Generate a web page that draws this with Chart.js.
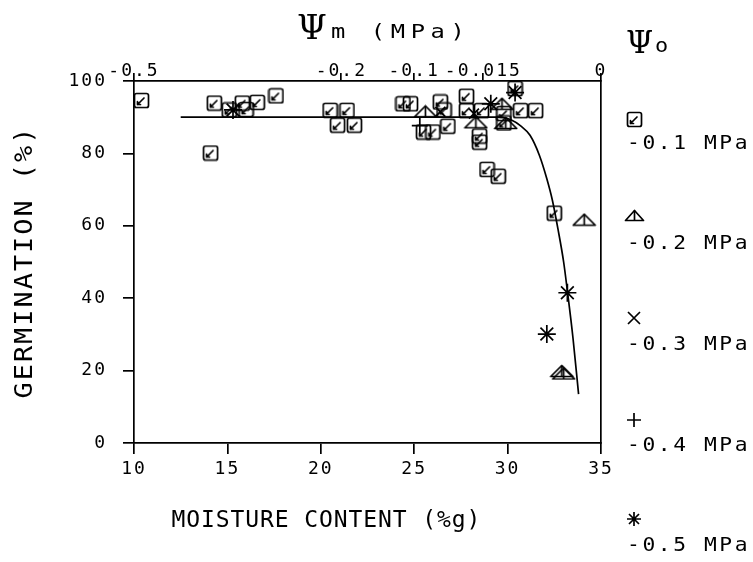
<!DOCTYPE html>
<html><head><meta charset="utf-8">
<script src="https://cdn.jsdelivr.net/npm/chart.js@4/dist/chart.umd.min.js"></script>
<style>html,body{margin:0;padding:0;background:#fff;}</style>
</head><body>
<canvas id="c" width="753" height="562"></canvas>
<script>
// ---- data ----
const squareX = [10.4, 14.1, 14.3, 15.1, 15.8, 16.0, 16.6, 17.6, 20.5, 21.4, 20.9, 21.8, 24.4, 24.8, 25.5, 26.0, 26.4, 26.6, 26.8, 27.8, 27.8, 28.6, 28.5, 28.5, 29.8, 29.8, 30.4, 30.7, 31.5, 28.9, 29.5, 32.5];
const squareY = [94.6, 80.1, 93.9, 92.0, 93.9, 92.1, 94.1, 95.9, 91.9, 91.9, 87.8, 87.8, 93.7, 93.7, 85.9, 85.9, 94.2, 92.0, 87.5, 95.8, 91.8, 91.8, 84.8, 83.1, 91.0, 88.4, 97.9, 91.8, 91.8, 75.6, 73.7, 63.5];
const triangleX = [25.6, 29.7, 28.3, 29.9, 34.1, 32.9, 33.0];
const triangleY = [91.6, 93.7, 88.6, 88.4, 61.7, 19.9, 19.2];
const crossX = [26.4, 28.2];
const crossY = [91.5, 91.0];
const plusX = [25.3];
const plusY = [87.7];
const starX = [15.3, 29.1, 30.4, 33.2, 32.1];
const starY = [92.0, 93.7, 96.8, 41.5, 30.1];
const curveX = [12.5, 29.6, 30.2, 30.7, 31.2, 31.7, 32.1, 32.4, 32.7, 33.0, 33.2, 33.5, 33.8];
const curveY = [90, 90, 89.2, 87.6, 85.0, 79.5, 73.0, 67.0, 59.0, 50.0, 42.0, 29.0, 13.5];
const topTickPos = [10, 21.1, 25.0, 28.7, 35];
const topTickLabels = ['-0.5', '-0.2', '-0.1', '-0.015', '0'];
const legendLabels = ['-0.1 MPa', '-0.2 MPa', '-0.3 MPa', '-0.4 MPa', '-0.5 MPa'];
const xTitle = 'MOISTURE CONTENT (%g)';
const yTitle = 'GERMINATION (%)';

const MONO = '"DejaVu Sans Mono", monospace';
const pts = (xs, ys) => xs.map((x, i) => ({x: x, y: ys[i]}));

// custom marker images
function makeSquare() {
  const c = document.createElement('canvas'); c.width = 17; c.height = 17;
  const g = c.getContext('2d'); g.strokeStyle = '#000'; g.lineWidth = 1.7; g.lineCap = 'round';
  g.beginPath(); g.roundRect(1.5, 1.5, 14, 14, 2); g.stroke();
  g.beginPath(); g.moveTo(11, 6); g.lineTo(4.5, 12.5); g.moveTo(4.5, 12.5); g.lineTo(7.5, 12.5); g.moveTo(4.5, 12.5); g.lineTo(4.5, 9.5); g.stroke();
  return c;
}
function makeTriangle(w, h) {
  const c = document.createElement('canvas'); c.width = w; c.height = h;
  const g = c.getContext('2d'); g.strokeStyle = '#000'; g.lineWidth = 1.7; g.lineJoin = 'round';
  g.beginPath(); g.moveTo(1.5, h - 1.5); g.lineTo(w / 2, 1.5); g.lineTo(w - 1.5, h - 1.5); g.closePath(); g.stroke();
  g.beginPath(); g.moveTo(w / 2, 1.5); g.lineTo(w / 2, h - 1.5); g.stroke();
  return c;
}
const sqImg = makeSquare();
const triImg = makeTriangle(25, 14);
const triLegImg = makeTriangle(21, 13);

const base = {showLine: false, borderColor: '#000', backgroundColor: 'rgba(0,0,0,0)', borderWidth: 1.7};

function stretchedText(ctx, text, x, y, size, sx, spacing, align) {
  ctx.save();
  ctx.font = size + 'px ' + MONO;
  ctx.letterSpacing = spacing + 'px';
  ctx.textBaseline = 'middle';
  ctx.textAlign = 'left';
  const w = ctx.measureText(text).width - spacing;
  ctx.translate(x, y);
  ctx.scale(sx, 1);
  let x0 = 0;
  if (align === 'center') x0 = -w / 2;
  ctx.fillText(text, x0, 0);
  ctx.restore();
}

const textPlugin = {
  id: 'texts',
  beforeDraw(chart) { chart.ctx.letterSpacing = '2px'; },
  afterDraw(chart) {
    const ctx = chart.ctx;
    ctx.save();
    ctx.fillStyle = '#000';
    // y title (rotated)
    ctx.save();
    ctx.translate(26, 263); ctx.rotate(-Math.PI / 2);
    stretchedText(ctx, yTitle, 0, 0, 24, 1.12, 1.8, 'center');
    ctx.restore();
    // x title
    stretchedText(ctx, xTitle, 326, 521, 23, 1.0, 0.9, 'center');
    // top title
    ctx.letterSpacing = '0px';
    ctx.textAlign = 'left'; ctx.textBaseline = 'alphabetic';
    ctx.font = '34px "DejaVu Serif", serif';
    ctx.fillText('\u03A8', 297, 39);
    stretchedText(ctx, 'm (MPa)', 331, 33, 19, 1.25, 4.5, 'left');
    // right Psi o
    ctx.letterSpacing = '0px';
    ctx.textAlign = 'left'; ctx.textBaseline = 'alphabetic';
    ctx.font = '31px "DejaVu Serif", serif';
    ctx.fillText('\u03A8', 626, 53);
    stretchedText(ctx, 'o', 655, 47, 19, 1.15, 0, 'left');
    // legend symbols
    const symY = [119, 216, 318, 420, 519];
    const txtY = [144, 244, 345, 446, 546];
    const sx = 634;
    ctx.lineWidth = 1.7; ctx.strokeStyle = '#000';
    ctx.drawImage(sqImg, sx - 8, symY[0] - 8);
    ctx.drawImage(triLegImg, sx - 10, symY[1] - 7);
    ctx.beginPath(); ctx.moveTo(sx - 6, symY[2] - 6); ctx.lineTo(sx + 6, symY[2] + 6);
    ctx.moveTo(sx + 6, symY[2] - 6); ctx.lineTo(sx - 6, symY[2] + 6); ctx.stroke();
    ctx.beginPath(); ctx.moveTo(sx - 7, symY[3]); ctx.lineTo(sx + 7, symY[3]);
    ctx.moveTo(sx, symY[3] - 7); ctx.lineTo(sx, symY[3] + 7); ctx.stroke();
    ctx.beginPath();
    ctx.moveTo(sx - 7, symY[4]); ctx.lineTo(sx + 7, symY[4]);
    ctx.moveTo(sx, symY[4] - 7); ctx.lineTo(sx, symY[4] + 7);
    ctx.moveTo(sx - 5, symY[4] - 5); ctx.lineTo(sx + 5, symY[4] + 5);
    ctx.moveTo(sx + 5, symY[4] - 5); ctx.lineTo(sx - 5, symY[4] + 5);
    ctx.stroke();
    legendLabels.forEach((t, i) => stretchedText(ctx, t, 627, txtY[i], 19, 1.12, 2.3, 'left'));
    ctx.restore();
  }
};

const axisGrid = {display: true, drawOnChartArea: false, drawTicks: true, color: '#000', lineWidth: 1.7, tickLength: 11, tickWidth: 1.7};
const axisBorder = {display: true, color: '#000', width: 1.7};
const tickFont = {family: MONO, size: 18};

new Chart(document.getElementById('c'), {
  type: 'scatter',
  data: {
    datasets: [
      {type: 'line', label: 'fit', data: pts(curveX, curveY), borderColor: '#000', borderWidth: 1.7, pointRadius: 0, fill: false, cubicInterpolationMode: 'monotone'},
      Object.assign({label: '-0.1 MPa', data: pts(squareX, squareY), pointStyle: sqImg, pointRadius: 8}, base),
      Object.assign({label: '-0.2 MPa', data: pts(triangleX, triangleY), pointStyle: triImg, pointRadius: 9}, base),
      Object.assign({label: '-0.3 MPa', data: pts(crossX, crossY), pointStyle: 'crossRot', pointRadius: 7}, base),
      Object.assign({label: '-0.4 MPa', data: pts(plusX, plusY), pointStyle: 'cross', pointRadius: 8}, base),
      Object.assign({label: '-0.5 MPa', data: pts(starX, starY), pointStyle: 'star', pointRadius: 9}, base)
    ]
  },
  options: {
    responsive: false,
    animation: false,
    events: [],
    layout: {padding: {left: 0, right: 152, top: 0, bottom: 0}},
    plugins: {legend: {display: false}, tooltip: {enabled: false}},
    scales: {
      x: {
        type: 'linear', position: 'bottom', min: 10, max: 35,
        ticks: {stepSize: 5, autoSkip: false, color: '#000', font: tickFont, padding: 5, maxRotation: 0},
        grid: axisGrid, border: axisBorder,
        afterFit(s) { s.height = 119; }
      },
      x2: {
        type: 'linear', position: 'top', min: 10, max: 35,
        afterBuildTicks(s) { s.ticks = topTickPos.map(v => ({value: v})); },
        ticks: {autoSkip: false, color: '#000', font: tickFont, padding: -9, maxRotation: 0,
          callback: (v, i) => topTickLabels[i]},
        grid: Object.assign({}, axisGrid, {tickLength: 8}), border: axisBorder,
        afterFit(s) { s.height = 81; }
      },
      y: {
        type: 'linear', position: 'left', min: 0, max: 100,
        ticks: {stepSize: 20, color: '#000', font: tickFont, padding: 16},
        grid: axisGrid, border: axisBorder,
        afterFit(s) { s.width = 134; }
      },
      y2: {
        type: 'linear', position: 'right', min: 0, max: 100,
        ticks: {display: false},
        grid: {display: false, drawTicks: false},
        border: axisBorder,
        afterFit(s) { s.width = 0; }
      }
    }
  },
  plugins: [textPlugin]
});
</script>
</body></html>
